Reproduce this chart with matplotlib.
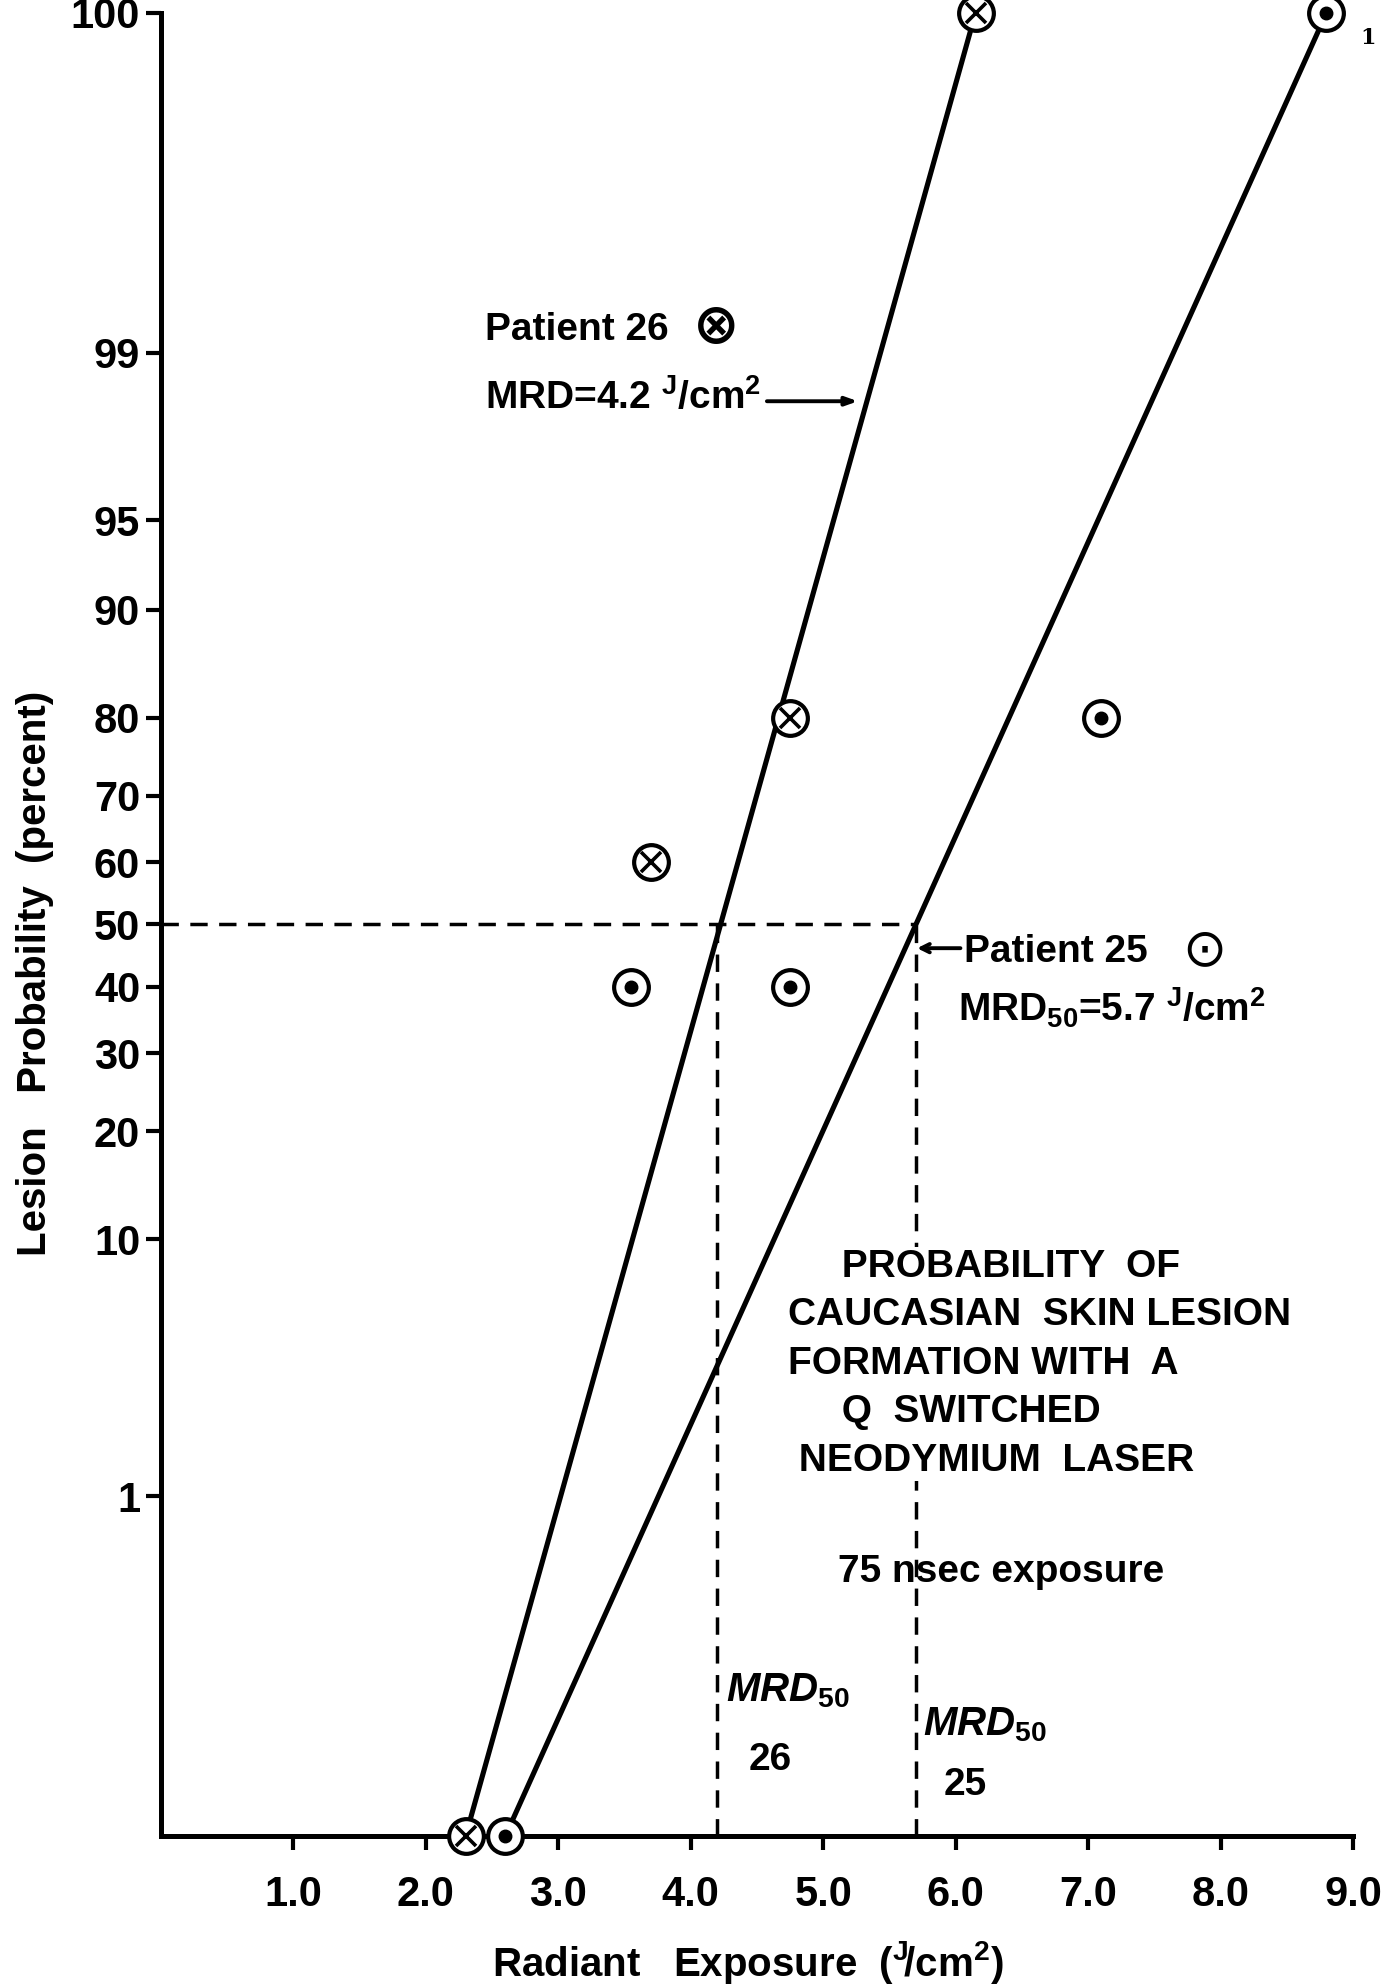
import math
import numpy as np
import matplotlib
matplotlib.use('Agg')
import matplotlib.pyplot as plt

# data (x in J/cm2, y in percent)
p26_x = [2.3, 3.7, 4.75, 6.15]
p26_y = [0, 60, 80, 100]
p25_x = [2.6, 3.55, 4.75, 7.1, 8.8]
p25_y = [0, 40, 40, 80, 100]
fit26_x = [2.3, 6.15]
fit26_y = [0, 100]
fit25_x = [2.6, 8.8]
fit25_y = [0, 100]
mrd26 = 4.2
mrd25 = 5.7
yticks = [1, 10, 20, 30, 40, 50, 60, 70, 80, 90, 95, 99, 100]
xticks = [1, 2, 3, 4, 5, 6, 7, 8, 9]
xticklabels = ['1.0', '2.0', '3.0', '4.0', '5.0', '6.0', '7.0', '8.0', '9.0']

# normal probability scale
P_LO = 1.04e-4
P_HI = 1 - P_LO
A = [-3.969683028665376e+01, 2.209460984245205e+02, -2.759285104469687e+02,
     1.383577518672690e+02, -3.066479806614716e+01, 2.506628277459239e+00]
B = [-5.447609879822406e+01, 1.615858368580409e+02, -1.556989798598866e+02,
     6.680131188771972e+01, -1.328068155288572e+01]
C = [-7.784894002430293e-03, -3.223964580411365e-01, -2.400758277161838e+00,
     -2.549732539343734e+00, 4.374664141464968e+00, 2.938163982698783e+00]
D = [7.784695709041462e-03, 3.224671290700398e-01, 2.445134137142996e+00,
     3.754408661907416e+00]


def ppf(q):
    q = np.atleast_1d(np.asarray(q, float))
    z = np.zeros_like(q)
    lo = q < 0.02425
    hi = q > 1 - 0.02425
    mid = ~(lo | hi)
    r = q[mid] - 0.5
    s = r * r
    z[mid] = ((((((A[0]*s+A[1])*s+A[2])*s+A[3])*s+A[4])*s+A[5])*r /
              (((((B[0]*s+B[1])*s+B[2])*s+B[3])*s+B[4])*s+1))
    t = np.sqrt(-2*np.log(q[lo]))
    z[lo] = ((((((C[0]*t+C[1])*t+C[2])*t+C[3])*t+C[4])*t+C[5]) /
             ((((D[0]*t+D[1])*t+D[2])*t+D[3])*t+1))
    t = np.sqrt(-2*np.log(1-q[hi]))
    z[hi] = -((((((C[0]*t+C[1])*t+C[2])*t+C[3])*t+C[4])*t+C[5]) /
              ((((D[0]*t+D[1])*t+D[2])*t+D[3])*t+1))
    return z


_erf = np.vectorize(math.erf, otypes=[float])


def fwd(p):
    p = np.asarray(p, float)
    q = np.clip(p / 100.0, P_LO, P_HI)
    return ppf(q).reshape(p.shape)


def inv(z):
    z = np.asarray(z, float)
    return 100 * 0.5 * (1 + _erf(z / math.sqrt(2)))


plt.rcParams['font.family'] = ['Liberation Sans', 'DejaVu Sans']
plt.rcParams['font.weight'] = 'bold'
plt.rcParams['axes.labelweight'] = 'bold'
plt.rcParams['mathtext.fontset'] = 'custom'
plt.rcParams['mathtext.rm'] = 'Liberation Sans:bold'
plt.rcParams['mathtext.it'] = 'Liberation Sans:italic:bold'

fig = plt.figure(figsize=(13.83, 19.86), dpi=100)
ax = fig.add_axes([0.1164, 0.0755, 0.8619, 0.918])
ax.set_yscale('function', functions=(fwd, inv))
ax.set_xlim(0, 9.0)
ax.set_ylim(0, 100)

# fitted lines
ax.plot(fit26_x, fit26_y, color='black', lw=3.7, zorder=3, clip_on=False)
ax.plot(fit25_x, fit25_y, color='black', lw=3.7, zorder=3, clip_on=False)

# MRD50 dashed guides
ax.plot([0, mrd25], [50, 50], color='black', lw=2.5, dashes=(5, 3.3), zorder=2)
ax.plot([mrd26, mrd26], [0, 50], color='black', lw=2.5, dashes=(5, 3.3), zorder=2)
ax.plot([mrd25, mrd25], [0, 50], color='black', lw=2.5, dashes=(5, 3.3), zorder=2)

# patient 26: circled x
ax.plot(p26_x, p26_y, 'o', ms=25, mfc='white', mec='black', mew=3, ls='none', zorder=5, clip_on=False)
ax.plot(p26_x, p26_y, 'x', ms=15, mec='black', mew=2.6, ls='none', zorder=6, clip_on=False)
# patient 25: circled dot
ax.plot(p25_x, p25_y, 'o', ms=25, mfc='white', mec='black', mew=3, ls='none', zorder=5, clip_on=False)
ax.plot(p25_x, p25_y, 'o', ms=9, mfc='black', mec='black', ls='none', zorder=6, clip_on=False)

ax.spines['top'].set_visible(False)
ax.spines['right'].set_visible(False)
ax.spines['left'].set_linewidth(3.6)
ax.spines['bottom'].set_linewidth(3.6)

ax.set_yticks(yticks)
ax.set_yticklabels([str(t) for t in yticks])
ax.yaxis.set_minor_locator(matplotlib.ticker.NullLocator())
ax.set_xticks(xticks)
ax.set_xticklabels(xticklabels)
ax.tick_params(axis='y', direction='out', length=11, width=3, pad=4, labelsize=30)
ax.tick_params(axis='x', direction='out', length=10, width=3, pad=18, labelsize=30)

ax.set_ylabel('Lesion   Probability  (percent)', fontsize=29, fontweight='bold', va='center', ha='center')
ax.yaxis.set_label_coords(-0.106, 0.473)
ax.set_xlabel(r'Radiant   Exposure  ($^{\mathrm{J}}\!$/cm$^{\mathrm{2}}$)', fontsize=29, fontweight='bold',
              va='center', ha='center')
ax.xaxis.set_label_coords(0.492, -0.0695)

tr = ax.transAxes
ax.text(0.272, 0.826, 'Patient 26', transform=tr, fontsize=28, ha='left', va='center')
ax.text(0.466, 0.827, '\u2297', transform=tr, fontsize=40, ha='center', va='center',
        family='DejaVu Sans', weight='bold')
ax.text(0.272, 0.789, r'MRD=4.2 $^{\mathrm{J}}$/cm$^{\mathrm{2}}$', transform=tr,
        fontsize=28, ha='left', va='center')
ax.annotate('', xy=(0.587, 0.787), xytext=(0.506, 0.787), xycoords=tr, textcoords=tr,
            arrowprops=dict(arrowstyle='-|>,head_length=0.7,head_width=0.25', color='black', lw=2.8))

ax.text(0.674, 0.485, 'Patient 25', transform=tr, fontsize=28, ha='left', va='center')
ax.text(0.875, 0.486, '\u2299', transform=tr, fontsize=38, ha='center', va='center',
        family='DejaVu Sans', weight='normal')
ax.annotate('', xy=(0.632, 0.487), xytext=(0.673, 0.487), xycoords=tr, textcoords=tr,
            arrowprops=dict(arrowstyle='->,head_length=0.6,head_width=0.3', color='black', lw=2.8))
ax.text(0.669, 0.454, r'MRD$_{\mathrm{50}}$=5.7 $^{\mathrm{J}}$/cm$^{\mathrm{2}}$', transform=tr,
        fontsize=28, ha='left', va='center')

ax.text(0.526, 0.259,
        '     PROBABILITY  OF\nCAUCASIAN  SKIN LESION\nFORMATION WITH  A\n     Q  SWITCHED\n NEODYMIUM  LASER',
        transform=tr, fontsize=28, ha='left', va='center', multialignment='left', linespacing=1.45,
        bbox=dict(facecolor='white', edgecolor='none', pad=1), zorder=4)
ax.text(0.705, 0.1446, '75 nsec exposure', transform=tr, fontsize=28, ha='center', va='center', zorder=4)

ax.text(0.474, 0.080, r'$\mathit{MRD}_{\mathit{50}}$', transform=tr, fontsize=29, ha='left', va='center')
ax.text(0.511, 0.0417, '26', transform=tr, fontsize=28, ha='center', va='center')
ax.text(0.639, 0.0612, r'$\mathit{MRD}_{\mathit{50}}$', transform=tr, fontsize=29, ha='left', va='center')
ax.text(0.675, 0.0278, '25', transform=tr, fontsize=28, ha='center', va='center')

fig.text(0.989, 0.981, '1', family='DejaVu Serif', weight='bold', fontsize=16, ha='center', va='center')

fig.savefig('out.png', dpi=100, facecolor='white')
